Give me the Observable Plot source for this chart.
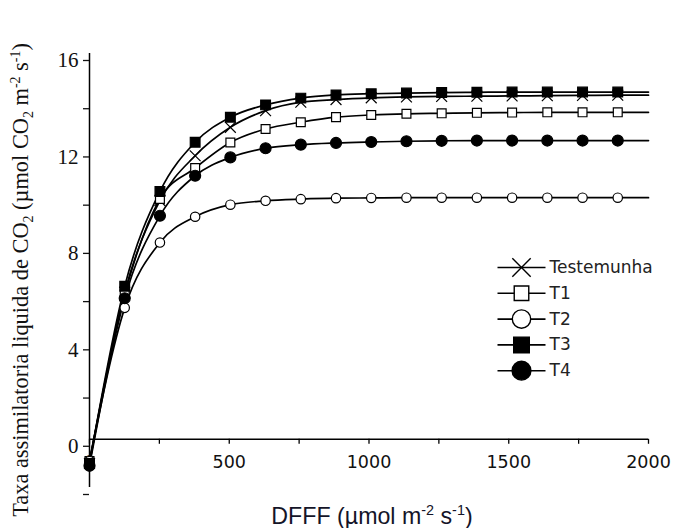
<!DOCTYPE html>
<html>
<head>
<meta charset="utf-8">
<script src="https://cdn.jsdelivr.net/npm/d3@7"></script>
<script src="https://cdn.jsdelivr.net/npm/@observablehq/plot@0.6"></script>
<style>
  html, body { margin: 0; padding: 0; background: #fff; }
  #wrap { position: relative; width: 673px; height: 528px; background: #fff; overflow: hidden; }
  #ylab { position: absolute; left: 21px; top: 280px; transform: translate(-50%, -50%) rotate(-90deg);
          white-space: nowrap; font-family: "Liberation Serif", "Times New Roman", serif; font-size: 22.4px; color: #111; }
  #xlab { position: absolute; left: 372px; top: 516px; transform: translate(-50%, -50%);
          white-space: nowrap; font-family: "Liberation Sans", Arial, sans-serif; font-size: 23.2px; color: #141428; }
  sub, sup { font-size: 0.62em; line-height: 0; }
</style>
</head>
<body>
<div id="wrap">
  <div id="ylab">Taxa assimilatoria liquida de CO<sub>2</sub> (µmol CO<sub>2</sub> m<sup>-2</sup> s<sup>-1</sup>)</div>
  <div id="xlab">DFFF (µmol m<sup>-2</sup> s<sup>-1</sup>)</div>
</div>
<script>
// ---- data ----
const dfff = [0, 126, 252, 378, 504, 630, 756, 882, 1008, 1134, 1260, 1386, 1512, 1638, 1764, 1890];
const lineEndX = 2000;
const seriesNames = ["Testemunha", "T1", "T2", "T3", "T4"];
const testemunha = [-1.0, 6.1, 9.9, 11.76, 12.94, 13.63, 13.98, 14.09, 14.16, 14.2, 14.22, 14.23, 14.24, 14.25, 14.26, 14.27];
const t1 = [-0.9, 6.0, 9.97, 11.25, 12.31, 12.87, 13.15, 13.36, 13.45, 13.5, 13.52, 13.54, 13.55, 13.56, 13.56, 13.56];
const t2 = [-0.9, 5.45, 8.16, 9.23, 9.73, 9.89, 9.96, 10.0, 10.01, 10.02, 10.02, 10.02, 10.02, 10.02, 10.02, 10.02];
const t3 = [-1.0, 6.35, 10.28, 12.32, 13.36, 13.87, 14.15, 14.28, 14.33, 14.36, 14.38, 14.39, 14.4, 14.4, 14.4, 14.4];
const t4 = [-1.1, 5.85, 9.27, 10.93, 11.69, 12.07, 12.22, 12.29, 12.33, 12.36, 12.38, 12.39, 12.39, 12.39, 12.39, 12.39];
const endValues = [14.27, 13.56, 10.02, 14.4, 12.39];
const xTickLabels = [0, 500, 1000, 1500, 2000];
const xTicksMinor = [250, 750, 1250, 1750];
const yTickLabels = [0, 4, 8, 12, 16];
const yTicksAll = [-2, 0, 2, 4, 6, 8, 10, 12, 14, 16];

// ---- build tables ----
const values = [testemunha, t1, t2, t3, t4];
const points = [];
const linePts = [];
seriesNames.forEach((s, k) => {
  dfff.forEach((x, i) => {
    points.push({series: s, x, y: values[k][i]});
    linePts.push({series: s, x, y: values[k][i]});
  });
  linePts.push({series: s, x: lineEndX, y: endValues[k]});
});

const style = {
  "Testemunha": {symbol: "times", fill: "none", stroke: "#000", r: 5.0, rl: 8.4},
  "T1": {symbol: "square", fill: "#fff", stroke: "#000", r: 5.0, rl: 8.2},
  "T2": {symbol: "circle", fill: "#fff", stroke: "#000", r: 4.7, rl: 9.2},
  "T3": {symbol: "square", fill: "#000", stroke: "#000", r: 5.5, rl: 8.8},
  "T4": {symbol: "circle", fill: "#000", stroke: "#000", r: 5.5, rl: 9.4}
};

const width = 673, height = 528;
const mTop = 53, mBottom = 41, mLeft = 89, mRight = 25;
const yDomain = [-2, 16];
const pxPerY = (height - mTop - mBottom) / (yDomain[1] - yDomain[0]);
const tickLenY = 5 / pxPerY;

// legend layout (computed in data units from pixel offsets)
const pxPerX = (width - mLeft - mRight) / 2000;
const legTopPx = 267, legStepPx = 25.8;
const legend = seriesNames.map((s, i) => ({
  series: s,
  y: yDomain[1] - (legTopPx + i * legStepPx - mTop) / pxPerY,
  x1: (497 - mLeft) / pxPerX,
  x2: (545 - mLeft) / pxPerX,
  xm: (521 - mLeft) / pxPerX
}));

const marks = [
  // axes lines
  Plot.ruleX([0], {y1: yDomain[0], y2: yDomain[1], stroke: "#000", strokeWidth: 1.5}),
  Plot.ruleY([0], {x1: 0, x2: 2000, stroke: "#000", strokeWidth: 1.5}),
  // x ticks (below the zero line)
  Plot.ruleX(xTickLabels.concat(xTicksMinor), {x: d => d, y1: 0, y2: -tickLenY, stroke: "#000", strokeWidth: 1.3}),
  Plot.text(xTickLabels, {x: d => d, y: 0, text: d => String(d), dy: 23, fontSize: 17.5,
    fontFamily: "DejaVu Sans, Verdana, sans-serif", fill: "#111"}),
  // y axis ticks + labels
  Plot.axisY({ticks: yTicksAll, tickSize: 6, tickPadding: 5, strokeWidth: 1.3,
    tickFormat: d => yTickLabels.includes(d) ? String(d) : "",
    fontSize: 21, fontFamily: "Liberation Serif, Times New Roman, serif", dy: 7, label: null, color: "#111"}),
  // curves
  Plot.line(linePts, {x: "x", y: "y", z: "series", curve: "monotone-x", stroke: "#000", strokeWidth: 1.7})
];

seriesNames.forEach(s => {
  const st = style[s];
  marks.push(Plot.dot(points.filter(p => p.series === s), {x: "x", y: "y", symbol: st.symbol, r: st.r,
    fill: st.fill, stroke: st.stroke, strokeWidth: 1.2}));
});

// legend
marks.push(Plot.link(legend, {x1: "x1", x2: "x2", y1: "y", y2: "y", stroke: "#000", strokeWidth: 1.6}));
legend.forEach(l => {
  const st = style[l.series];
  marks.push(Plot.dot([l], {x: "xm", y: "y", symbol: st.symbol, r: st.rl, fill: st.fill, stroke: st.stroke,
    strokeWidth: 1.4}));
});
marks.push(Plot.text(legend, {x: "x2", y: "y", text: "series", textAnchor: "start", dx: 4, fontSize: 17,
  fontFamily: "DejaVu Sans, Verdana, sans-serif", fill: "#222"}));

const chart = Plot.plot({
  width, height,
  marginTop: mTop, marginBottom: mBottom, marginLeft: mLeft, marginRight: mRight,
  x: {domain: [0, 2000], axis: null},
  y: {domain: yDomain, axis: null},
  style: {background: "transparent", overflow: "visible"},
  marks
});
chart.style.position = "absolute";
chart.style.left = "0";
chart.style.top = "0";
document.getElementById("wrap").prepend(chart);
</script>
</body>
</html>
